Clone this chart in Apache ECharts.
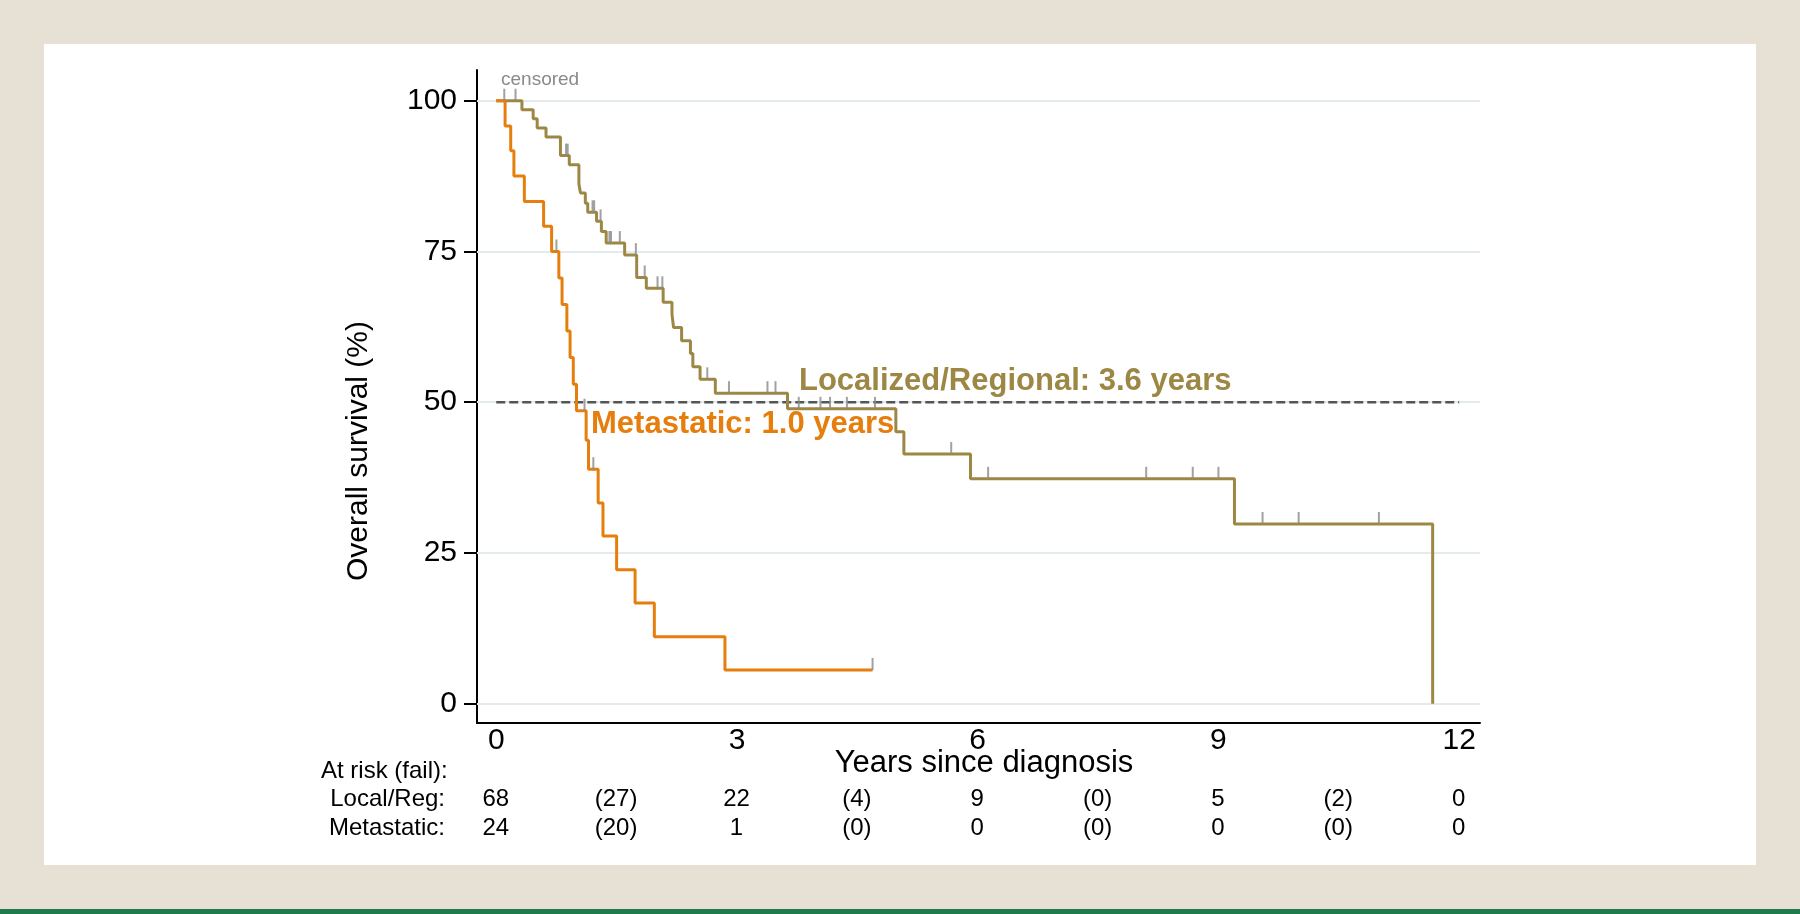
<!DOCTYPE html>
<html>
<head>
<meta charset="utf-8">
<title>Overall survival</title>
<script src="https://cdn.jsdelivr.net/npm/echarts@6/dist/echarts.min.js"></script>
<style>
html,body{margin:0;padding:0;background:#e7e1d5;}
#chart{width:1800px;height:914px;}
</style>
</head>
<body>
<div id="chart"></div>
<script>
// Kaplan-Meier steps: [years, survival % after the drop]
var localSteps = [
	[0,100],[0.32,98.5],[0.46,97.0],[0.51,95.5],[0.62,94.0],[0.80,90.9],[0.91,89.4],
	[1.03,86.2],[1.05,84.7],[1.11,83.0],[1.14,81.5],[1.25,80.0],[1.31,78.3],[1.37,76.4],
	[1.60,74.4],[1.75,70.7],[1.87,68.9],[2.08,66.6],[2.19,64.6],[2.21,62.4],[2.31,60.2],
	[2.42,58.1],[2.45,55.9],[2.54,53.8],[2.73,51.5],[3.63,48.9],[4.98,45.1],[5.08,41.4],
	[5.91,37.3],[9.20,29.8],[11.67,0]
];
var localCensored = [
	[0.10,100],[0.24,100],[0.87,90.9],[0.89,90.9],[1.20,81.5],[1.22,81.5],[1.30,80.0],
	[1.41,76.4],[1.43,76.4],[1.54,76.4],[1.74,74.4],[1.85,70.7],[2.01,68.9],[2.07,68.9],
	[2.63,53.8],[2.90,51.5],[3.38,51.5],[3.48,51.5],[3.77,48.9],[4.04,48.9],[4.16,48.9],
	[4.37,48.9],[4.72,48.9],[5.67,41.4],[6.13,37.3],[8.10,37.3],[8.68,37.3],[9.00,37.3],
	[9.55,29.8],[10.00,29.8],[11.00,29.8]
];
var metaSteps = [
	[0,100],[0.11,95.8],[0.18,91.7],[0.22,87.5],[0.35,83.3],[0.59,79.2],[0.69,75.0],
	[0.78,70.6],[0.82,66.2],[0.88,61.8],[0.92,57.4],[0.96,53.0],[1.00,48.6],[1.12,43.7],
	[1.15,38.9],[1.27,33.3],[1.33,27.8],[1.50,22.2],[1.73,16.7],[1.97,11.1],[2.85,5.6],
	[4.69,5.6]
];
var metaCensored = [[0.75,75.0],[1.10,48.6],[1.21,38.9],[4.69,5.6]];
var medianLine = [[0,50],[12,50]];

var xTicks = [0,3,6,9,12];
var yTicks = [0,25,50,75,100];

// number at risk table (failures in brackets)
var riskTimes = [0,1.5,3,4.5,6,7.5,9,10.5,12];
var riskLocal = ['68','(27)','22','(4)','9','(0)','5','(2)','0'];
var riskMeta  = ['24','(20)','1','(0)','0','(0)','0','(0)','0'];
var riskRows  = ['Metastatic:','Local/Reg:'];

var FONT = '"Liberation Sans", Arial, Helvetica, sans-serif';
var OLIVE = '#9d8744';
var ORANGE = '#e67e0e';
var CENS = '#8a8a8a';

var chart = echarts.init(document.getElementById('chart'));

var riskData = [];
for (var i=0;i<riskTimes.length;++i) {
	riskData.push({value:[riskTimes[i], 'Local/Reg:'], text:riskLocal[i]});
	riskData.push({value:[riskTimes[i], 'Metastatic:'], text:riskMeta[i]});
}

var option = {
	backgroundColor: '#e7e1d5',
	animation: false,
	textStyle: {fontFamily: FONT},
	grid: [
		{left:477, top:70, width:1003, height:653},
		{left:477, top:785, width:1003, height:58}
	],
	xAxis: [{
		type:'value', gridIndex:0, min:-0.24, max:12.26,
		axisLine:{show:true, onZero:false, lineStyle:{color:'#000', width:2}},
		axisTick:{show:false},
		splitLine:{show:false},
		axisLabel:{customValues:xTicks, fontSize:30, color:'#000', margin:3, fontFamily:FONT}
	},{
		type:'value', gridIndex:1, min:-0.24, max:12.26, show:false
	}],
	yAxis: [{
		type:'value', gridIndex:0, min:-3.2, max:105.1,
		axisLine:{show:true, onZero:false, lineStyle:{color:'#000', width:2}},
		axisTick:{show:true, customValues:yTicks, length:13, lineStyle:{color:'#000', width:2}},
		splitLine:{show:false},
		axisLabel:{customValues:yTicks, fontSize:30, color:'#000', margin:20, fontFamily:FONT}
	},{
		type:'category', gridIndex:1, data:riskRows,
		axisLine:{show:false}, axisTick:{show:false}, splitLine:{show:false},
		axisLabel:{interval:0, fontSize:24, color:'#000', margin:32, fontFamily:FONT}
	}],
	series: [
		// horizontal gridlines
		{
			type:'scatter', xAxisIndex:0, yAxisIndex:0, data:[], z:1, silent:true,
			markLine:{
				z:1, silent:true, symbol:['none','none'], label:{show:false},
				lineStyle:{color:'#e3ebef', width:2, type:'solid'},
				emphasis:{disabled:true},
				data: yTicks.map(function(v){return {yAxis:v};})
			}
		},
		{
			name:'median', type:'line', data:medianLine, z:2, silent:true,
			symbol:'none', lineStyle:{color:'#555555', width:2.5, type:[9,4]}
		},
		{
			name:'Localized/Regional', type:'line', step:'end', data:localSteps, z:3,
			symbol:'none', lineStyle:{color:OLIVE, width:3}
		},
		{
			name:'Metastatic', type:'line', step:'end', data:metaSteps, z:3,
			symbol:'none', lineStyle:{color:ORANGE, width:3}
		},
		{
			name:'censored', type:'scatter', data:localCensored.concat(metaCensored), z:4,
			symbol:'rect', symbolSize:[2,12], symbolOffset:[0,-6],
			itemStyle:{color:CENS}
		},
		{
			name:'risk', type:'scatter', xAxisIndex:1, yAxisIndex:1, data:riskData,
			symbolSize:1, itemStyle:{color:'#ffffff', opacity:0}, silent:true,
			label:{
				show:true, position:[0,0], align:'center', verticalAlign:'middle',
				fontSize:24, color:'#000000', opacity:1, textBorderWidth:0, fontFamily:FONT,
				formatter:function(p){return p.data.text;}
			}
		}
	],
	graphic: [
		{type:'rect', z:-100, silent:true, shape:{x:44,y:44,width:1712,height:821}, style:{fill:'#ffffff'}},
		{type:'rect', z:-100, silent:true, shape:{x:0,y:909,width:1800,height:5}, style:{fill:'#1f7a4c'}},
		{type:'text', silent:true, style:{text:'censored', x:501, y:80, fill:CENS,
			font:'19px '+FONT, align:'left', verticalAlign:'middle'}},
		{type:'text', silent:true, style:{text:'Localized/Regional: 3.6 years', x:799, y:381, fill:OLIVE,
			font:'bold 31px '+FONT, align:'left', verticalAlign:'middle'}},
		{type:'text', silent:true, style:{text:'Metastatic: 1.0 years', x:591, y:424, fill:ORANGE,
			font:'bold 31px '+FONT, align:'left', verticalAlign:'middle'}},
		{type:'text', silent:true, x:359, y:451, rotation:Math.PI/2,
			style:{text:'Overall survival (%)', x:0, y:0, fill:'#000',
			font:'30px '+FONT, align:'center', verticalAlign:'middle'}},
		{type:'text', silent:true, style:{text:'Years since diagnosis', x:984, y:763, fill:'#000',
			font:'31px '+FONT, align:'center', verticalAlign:'middle'}},
		{type:'text', silent:true, style:{text:'At risk (fail):', x:321, y:771, fill:'#000',
			font:'24px '+FONT, align:'left', verticalAlign:'middle'}}
	]
};
chart.setOption(option);
</script>
</body>
</html>
